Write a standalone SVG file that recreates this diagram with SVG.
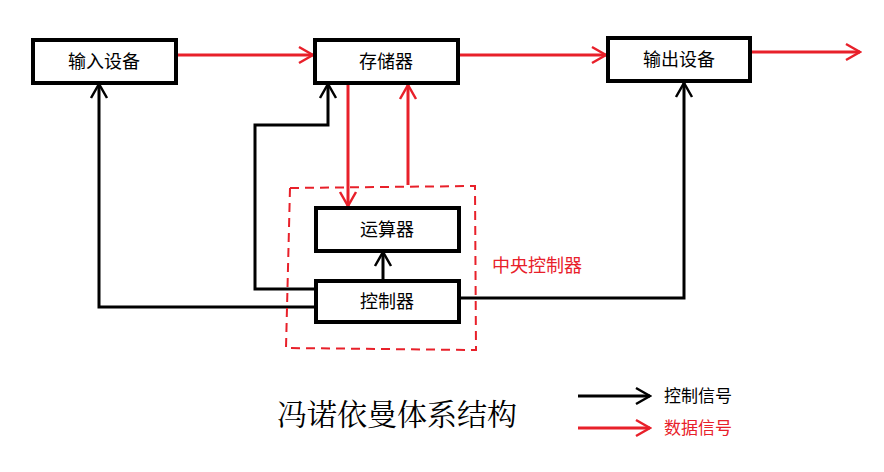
<svg xmlns="http://www.w3.org/2000/svg" width="884" height="472" viewBox="0 0 884 472">
<defs>
<marker id="ab" viewBox="0 0 20 20" refX="18" refY="10" markerWidth="20" markerHeight="20" markerUnits="userSpaceOnUse" orient="auto"><polyline points="4,2 18,10 4,18" fill="none" stroke="#000" stroke-width="2.5"/></marker>
<marker id="ar" viewBox="0 0 20 20" refX="18" refY="10" markerWidth="20" markerHeight="20" markerUnits="userSpaceOnUse" orient="auto"><polyline points="4,2 18,10 4,18" fill="none" stroke="#e8202a" stroke-width="2.5"/></marker>
</defs>
<style>
.box{fill:#fff;stroke:#000;stroke-width:4}
.t{font-family:"Noto Sans CJK SC",sans-serif;font-size:18px;fill:#000;text-anchor:middle}
.k{fill:none;stroke:#000;stroke-width:3}
.r{fill:none;stroke:#e8202a;stroke-width:3}
</style>
<rect width="884" height="472" fill="#fff"/>
<g id="connectors">
<polyline class="r" points="176,55 313,55" marker-end="url(#ar)"/>
<polyline class="r" points="458,55 606,55" marker-end="url(#ar)"/>
<polyline class="r" points="750,52 860,52" marker-end="url(#ar)"/>
<polyline class="r" points="348,85 348,206" marker-end="url(#ar)"/>
<polyline class="r" points="408,185 408,85" marker-end="url(#ar)"/>
<polyline class="k" points="316,307 99,307 99,84" marker-end="url(#ab)"/>
<polyline class="k" points="316,289 255,289 255,125 328,125 328,84" marker-end="url(#ab)"/>
<polyline class="k" points="383,281 383,252" marker-end="url(#ab)"/>
<polyline class="k" points="459,298 684,298 684,83" marker-end="url(#ab)"/>
</g>
<g id="cpu"><path d="M290,188 L475,186 L476,350 L286,348 Z" fill="none" stroke="#e8202a" stroke-width="2" stroke-dasharray="9,6"/>
<text x="537" y="272" class="t" style="fill:#e8202a">中央控制器</text></g>
<g id="input"><rect class="box" x="33" y="40" width="143" height="43"/><text class="t" x="104" y="68">输入设备</text></g>
<g id="memory"><rect class="box" x="315" y="40" width="143" height="43"/><text class="t" x="386" y="68">存储器</text></g>
<g id="output"><rect class="box" x="608" y="38" width="142" height="43"/><text class="t" x="679" y="66">输出设备</text></g>
<g id="alu"><rect class="box" x="316" y="208" width="143" height="43"/><text class="t" x="387" y="236">运算器</text></g>
<g id="ctrl"><rect class="box" x="316" y="281" width="143" height="41"/><text class="t" x="387" y="308">控制器</text></g>
<text x="397" y="425" class="t" style="font-size:30px;font-family:'Noto Serif CJK SC','Noto Sans CJK SC',serif">冯诺依曼体系结构</text>
<g id="legend">
<polyline class="k" points="578,396 650,396" marker-end="url(#ab)"/>
<text x="698" y="402" class="t" style="font-size:17px">控制信号</text>
<polyline class="r" points="578,428 650,428" marker-end="url(#ar)"/>
<text x="698" y="434" class="t" style="font-size:17px;fill:#e8202a">数据信号</text>
</g>
</svg>
